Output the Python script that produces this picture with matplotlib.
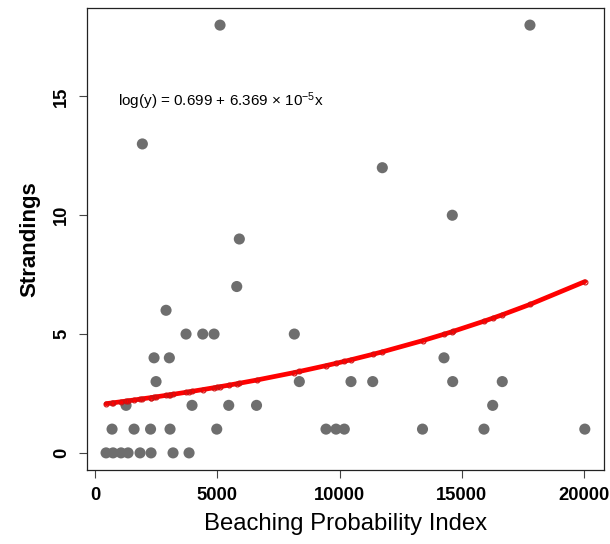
import numpy as np
import matplotlib
matplotlib.use("Agg")
import matplotlib.pyplot as plt

plt.rcParams['font.family'] = ['Liberation Sans', 'DejaVu Sans']
plt.rcParams['mathtext.fontset'] = 'custom'
plt.rcParams['mathtext.rm'] = 'Liberation Sans'
plt.rcParams['mathtext.it'] = 'Liberation Sans'

# Data
bpi = [450, 736, 1063, 1350, 1840, 2290, 3190, 3845,
       695, 1595, 2270, 3067, 4978, 9448, 9857, 10196, 13395, 15910, 20035,
       1268, 3967, 5468, 6605, 16266,
       2495, 8356, 10470, 11358, 14630, 16658,
       2413, 3039, 14274,
       3722, 4405, 4867, 8151,
       2904,
       5796,
       5902,
       14614,
       11751,
       1935,
       5112, 17791]
strandings = [0, 0, 0, 0, 0, 0, 0, 0,
              1, 1, 1, 1, 1, 1, 1, 1, 1, 1, 1,
              2, 2, 2, 2, 2,
              3, 3, 3, 3, 3, 3,
              4, 4, 4,
              5, 5, 5, 5,
              6,
              7,
              9,
              10,
              12,
              13,
              18, 18]

intercept = 0.699
slope = 6.369e-5

fig = plt.figure(figsize=(6.1, 5.44), dpi=100)
ax = fig.add_axes([87/610, (544-470)/544, (604-87)/610, (470-8)/544])

x = np.array(bpi, dtype=float)
y = np.array(strandings, dtype=float)
ax.scatter(x, y, s=64, color='#6e6e6e', edgecolors='none', zorder=2)

xs = np.sort(x)
ys = np.exp(intercept + slope * xs)
ax.plot(xs, ys, color='#ff0000', lw=3.4, zorder=3, solid_capstyle='round')
ax.plot(xs, ys, linestyle='none', marker='o', markersize=3.5,
        markerfacecolor='none', markeredgecolor='#d01010', markeredgewidth=0.8, zorder=4)

ax.text(950, 14.8, "log(y) = 0.699 + 6.369 \u00d7 10$^{-5}$x", fontsize=11,
        ha='left', va='center')

ax.set_xlim(-330, 20820)
ax.set_ylim(-0.72, 18.72)
ax.set_xticks([0, 5000, 10000, 15000, 20000])
ax.set_yticks([0, 5, 10, 15])
ax.set_xticklabels(['0', '5000', '10000', '15000', '20000'], fontweight='bold', fontsize=13.2)
ax.set_yticklabels(['0', '5', '10', '15'], fontweight='bold', fontsize=13.2, rotation=90, va='center')
ax.tick_params(axis='both', length=6, width=0.8, color='#444444')
ax.tick_params(axis='x', pad=6)
ax.tick_params(axis='y', pad=6)
for sp in ax.spines.values():
    sp.set_linewidth(0.9)
    sp.set_color('#222222')

ax.set_xlabel('Beaching Probability Index', fontsize=17.2, labelpad=7)
ax.set_ylabel('Strandings', fontsize=16, fontweight='bold', labelpad=9)

fig.savefig('out.png', dpi=100)
